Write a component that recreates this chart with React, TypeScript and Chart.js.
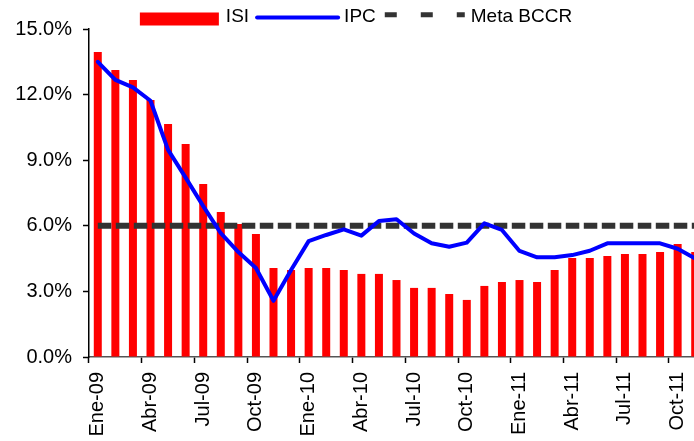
import React, { useEffect, useRef } from 'react';
import { Chart, registerables } from 'chart.js';

Chart.register(...registerables);

const FONT = '"Liberation Sans", Arial, Helvetica, sans-serif';

const categories = [
  'Ene-09', 'Feb-09', 'Mar-09', 'Abr-09', 'May-09', 'Jun-09', 'Jul-09', 'Ago-09', 'Set-09', 'Oct-09', 'Nov-09', 'Dic-09',
  'Ene-10', 'Feb-10', 'Mar-10', 'Abr-10', 'May-10', 'Jun-10', 'Jul-10', 'Ago-10', 'Set-10', 'Oct-10', 'Nov-10', 'Dic-10',
  'Ene-11', 'Feb-11', 'Mar-11', 'Abr-11', 'May-11', 'Jun-11', 'Jul-11', 'Ago-11', 'Set-11', 'Oct-11', 'Nov-11',
];

const isiValues = [
  13.95, 13.12, 12.67, 11.75, 10.65, 9.74, 7.91, 6.63, 6.08, 5.62, 4.07, 3.98,
  4.07, 4.07, 3.98, 3.8, 3.8, 3.52, 3.16, 3.16, 2.88, 2.61, 3.25, 3.43,
  3.52, 3.43, 3.98, 4.53, 4.53, 4.62, 4.71, 4.71, 4.8, 5.17, 4.8,
];

const ipcValues = [
  13.5, 12.67, 12.33, 11.72, 9.47, 8.2, 6.9, 5.66, 4.8, 4.07, 2.57, 3.98,
  5.3, 5.58, 5.84, 5.55, 6.22, 6.3, 5.65, 5.2, 5.04, 5.23, 6.11, 5.81,
  4.85, 4.56, 4.56, 4.66, 4.86, 5.2, 5.2, 5.2, 5.2, 4.95, 4.5,
];

const metaValues = [
  6, 6, 6, 6, 6, 6, 6, 6, 6, 6, 6, 6,
  6, 6, 6, 6, 6, 6, 6, 6, 6, 6, 6, 6,
  6, 6, 6, 6, 6, 6, 6, 6, 6, 6, 6,
];

const seriesNames = ['ISI', 'IPC', 'Meta BCCR'];
const yMin = 0;
const yMax = 15;
const yStep = 3;

const legendPlugin = {
  id: 'customLegend',
  afterDraw(chart: any) {
    const ctx = chart.ctx as CanvasRenderingContext2D;
    ctx.save();
    ctx.font = `19px ${FONT}`;
    ctx.textBaseline = 'middle';
    ctx.fillStyle = '#000';
    const w1 = ctx.measureText(seriesNames[0]).width;
    const w2 = ctx.measureText(seriesNames[1]).width;
    const w3 = ctx.measureText(seriesNames[2]).width;
    const total = 79 + 7 + w1 + 7 + 83 + 5 + w2 + 9 + 80 + 6 + w3;
    let x = chart.width / 2 + 4 - total / 2;
    const textY = 17;
    ctx.fillStyle = '#FF0000';
    ctx.fillRect(x, 12.5, 79, 13);
    x += 79 + 7;
    ctx.fillStyle = '#000';
    ctx.fillText(seriesNames[0], x, textY);
    x += w1 + 7;
    ctx.strokeStyle = '#0000FF';
    ctx.lineWidth = 4;
    ctx.lineCap = 'round';
    ctx.beginPath();
    ctx.moveTo(x + 1, 17.5);
    ctx.lineTo(x + 82, 17.5);
    ctx.stroke();
    x += 83 + 5;
    ctx.fillText(seriesNames[1], x, textY);
    x += w2 + 9;
    ctx.strokeStyle = '#333333';
    ctx.lineWidth = 5;
    ctx.lineCap = 'butt';
    ctx.setLineDash([12, 24]);
    ctx.beginPath();
    ctx.moveTo(x, 14.8);
    ctx.lineTo(x + 80, 14.8);
    ctx.stroke();
    ctx.setLineDash([]);
    x += 80 + 6;
    ctx.fillText(seriesNames[2], x, textY);
    ctx.restore();
  },
};

export default function App() {
  const canvasRef = useRef<HTMLCanvasElement | null>(null);

  useEffect(() => {
    if (!canvasRef.current) return;
    const chart = new Chart(canvasRef.current, {
      type: 'bar',
      data: {
        labels: categories,
        datasets: [
          {
            type: 'line',
            label: seriesNames[1],
            data: ipcValues,
            borderColor: '#0000FF',
            backgroundColor: '#0000FF',
            borderWidth: 4,
            pointRadius: 0,
            tension: 0,
            borderJoinStyle: 'round',
            borderCapStyle: 'round',
            order: 1,
          } as any,
          {
            type: 'line',
            label: seriesNames[2],
            data: metaValues,
            borderColor: '#333333',
            backgroundColor: '#333333',
            borderWidth: 6,
            borderDash: [13.5, 4.5],
            pointRadius: 0,
            tension: 0,
            order: 2,
          } as any,
          {
            type: 'bar',
            label: seriesNames[0],
            data: isiValues,
            backgroundColor: '#FF0000',
            borderWidth: 0,
            categoryPercentage: 1,
            barPercentage: 0.455,
            order: 3,
          } as any,
        ],
      },
      options: {
        responsive: false,
        animation: false,
        maintainAspectRatio: false,
        layout: { padding: { top: 29, left: 0, right: 0, bottom: 0 } },
        plugins: {
          legend: { display: false },
          tooltip: { enabled: false },
        },
        scales: {
          x: {
            type: 'category',
            offset: true,
            grid: {
              display: true,
              drawOnChartArea: false,
              drawTicks: true,
              offset: true,
              tickLength: 6,
              tickWidth: 1.5,
              tickColor: (c: any) => (c.index % 3 === 0 ? '#000' : 'rgba(0,0,0,0)'),
            },
            border: { display: true, color: '#555', width: 1.5 },
            ticks: {
              autoSkip: false,
              maxRotation: 90,
              minRotation: 90,
              padding: 9,
              color: '#000',
              font: { family: FONT, size: 20 },
              callback: (_v: any, i: number) => (i % 3 === 0 ? categories[i] : ''),
            },
            afterFit: (s: any) => {
              s.height = 84;
              s.paddingLeft = 0;
              s.paddingRight = 0;
            },
          },
          y: {
            min: yMin,
            max: yMax,
            grid: {
              display: true,
              drawOnChartArea: false,
              drawTicks: true,
              tickLength: 6,
              tickWidth: 1.5,
              tickColor: '#000',
            },
            border: { display: true, color: '#000', width: 1.5 },
            ticks: {
              stepSize: yStep,
              padding: 11,
              color: '#000',
              font: { family: FONT, size: 20 },
              callback: (v: any) => Number(v).toFixed(1) + '%',
            },
            afterFit: (s: any) => {
              s.width = 89;
            },
          },
        },
      },
      plugins: [legendPlugin],
    });
    return () => chart.destroy();
  }, []);

  return (
    <div
      style={{
        position: 'fixed',
        left: 0,
        top: 0,
        width: 694,
        height: 441,
        overflow: 'hidden',
        background: '#fff',
      }}
    >
      <canvas ref={canvasRef} width={704} height={441} style={{ display: 'block', width: 704, height: 441 }} />
    </div>
  );
}
